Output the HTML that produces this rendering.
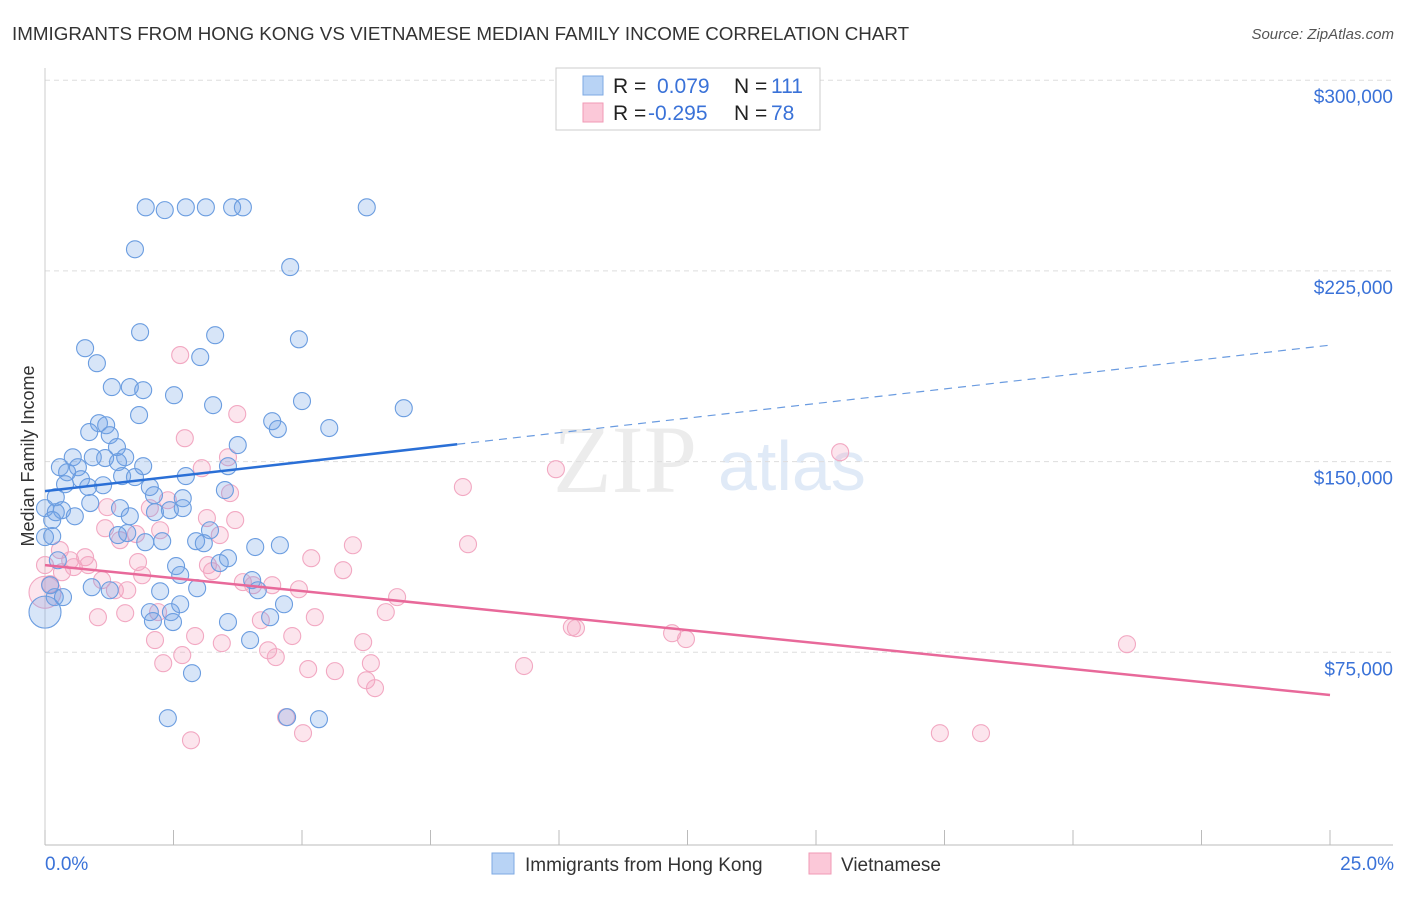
<!DOCTYPE html>
<html><head><meta charset="utf-8"><style>
body{margin:0;background:#fff;font-family:"Liberation Sans",sans-serif}
svg text{font-family:"Liberation Sans",sans-serif}
</style></head><body>
<svg id="c" width="1406" height="892">
<text x="12" y="40" font-size="18.8" fill="#333">IMMIGRANTS FROM HONG KONG VS VIETNAMESE MEDIAN FAMILY INCOME CORRELATION CHART</text>
<text x="1394" y="39" font-size="15" fill="#555" text-anchor="end" font-style="italic">Source: ZipAtlas.com</text>
<text x="553" y="492" font-size="96" fill="#ececec" style="font-family:'Liberation Serif',serif">ZIP</text>
<text x="718" y="490" font-size="70" fill="#e0eaf7">atlas</text>
<text x="34" y="456" font-size="18" fill="#333" text-anchor="middle" transform="rotate(-90 34 456)">Median Family Income</text>
<g id="grid"></g><g id="pts"></g><g id="trend"></g>
<rect x="556" y="68" width="264" height="62" fill="#fff" stroke="#ccc"/>
<rect x="583" y="76" width="20" height="19" fill="#b8d3f5" stroke="#7ea9e3"/>
<rect x="583" y="103" width="20" height="19" fill="#fbc8d8" stroke="#f09ab6"/>
<text font-size="21" fill="#222"><tspan x="613" y="93">R = </tspan><tspan x="657" fill="#3a72d8">0.079</tspan><tspan x="734">N = </tspan><tspan x="771" fill="#3a72d8">111</tspan></text>
<text font-size="21" fill="#222"><tspan x="613" y="120">R = </tspan><tspan x="648" fill="#3a72d8">-0.295</tspan><tspan x="734">N = </tspan><tspan x="771" fill="#3a72d8">78</tspan></text>
<rect x="492" y="853" width="22" height="21" fill="#b8d3f5" stroke="#7ea9e3"/>
<text x="525" y="871" font-size="19" fill="#333">Immigrants from Hong Kong</text>
<rect x="809" y="853" width="22" height="21" fill="#fbc8d8" stroke="#f09ab6"/>
<text x="841" y="871" font-size="19" fill="#333">Vietnamese</text>
</svg>
<script>
const yTicks=[75,150,225,300];
const yTickLabels=["$75,000","$150,000","$225,000","$300,000"];
const xTicks=[0,2.5,5,7.5,10,12.5,15,17.5,20,22.5,25];
const hkX=[1.96,2.33,2.74,3.13,3.64,3.85,6.26,1.75,4.77,1.85,3.31,4.94,0.78,3.02,1.01,1.30,1.65,1.91,2.51,6.98,5.00,3.27,1.83,4.42,4.53,5.53,1.05,1.19,0.86,1.26,1.40,3.75,0.54,0.93,1.17,1.56,1.42,0.29,0.64,1.91,3.56,0.43,0.70,1.50,1.75,0.39,0.84,1.13,2.74,2.04,0.21,2.12,2.68,3.50,0.88,0,0.33,0.58,0.21,1.46,1.65,2.14,2.43,2.68,0.14,3.21,0,1.60,1.42,1.95,2.28,2.94,3.09,4.09,3.56,4.57,2.55,3.40,2.63,4.03,1.26,2.24,2.96,4.14,0.19,2.63,4.65,2.04,4.38,2.45,2.10,2.49,3.56,3.99,2.86,2.39,4.71,5.33,0.91,0.35,0,0.10,0.14,0.25];
const hkY=[250,248.9,250,250,250,250,250,233.5,226.5,200.9,199.7,198.1,194.6,191.1,188.7,179.3,179.3,178.1,176.1,171,173.8,172.2,168.3,165.9,162.8,163.2,165.1,164.3,161.6,160.4,155.7,156.5,151.7,151.7,151.4,151.7,149.8,147.8,147.8,148.2,148.2,145.8,143.1,144.3,143.9,141.1,140,140.7,144.3,140,136,136.8,135.6,138.8,133.7,131.7,130.9,128.5,130.1,131.7,128.5,130.1,130.9,131.7,127,123,120.3,121.9,121.1,118.3,118.7,118.7,117.9,116.4,112,117.1,108.9,110.1,105.4,103.4,99.4,99,100.2,99.4,96.7,93.9,93.9,90.8,88.8,90.8,87.3,86.9,86.9,79.8,66.8,49.1,49.5,48.7,100.6,96.7,90.8,101.4,120.7,111.2];
const vnX=[2.63,2.72,3.74,3.56,3.05,3.60,9.94,15.47,8.13,8.23,0.29,0.49,0.33,0.78,0.56,0.10,0.84,1.17,1.46,1.77,2.04,2.24,3.15,3.40,1.81,1.11,1.36,1.89,1.60,1.03,1.56,2.20,2.14,2.30,2.67,2.92,3.44,3.17,3.25,3.85,4.05,4.42,4.94,4.20,4.34,4.49,4.81,5.25,5.18,5.80,5.99,5.12,5.64,6.19,6.34,6.25,6.42,6.63,6.85,9.32,10.25,10.33,12.20,12.47,21.05,17.41,18.21,2.84,5.02,4.69,0,0,3.70,1.21,2.39];
const vnY=[191.9,159.2,168.7,151.7,147.4,137.6,147,153.7,140,117.5,115.2,111.2,106.5,112.4,108.5,101.8,109.3,123.8,119.1,121.5,131.7,123,127.8,121.1,110.5,103.4,99.4,105.3,99.4,88.8,90.4,90.8,79.8,70.7,73.9,81.4,78.6,109.3,106.9,102.6,101.4,101.4,99.8,87.6,75.8,73.1,81.4,88.8,112,107.3,117.1,68.4,67.6,79,70.7,64,60.9,90.8,96.7,69.6,84.9,84.5,82.5,80.2,78.2,43.2,43.2,40.4,43.2,49.5,98.6,109.3,127,132.1,134.8];
const hkTrend=[138.4,195.8], hkSolidEnd=8.02;
const vnTrend=[109.3,58.2];
const X=v=>45+v/25*1285, Y=v=>843-v/75*190.7;
const NS="http://www.w3.org/2000/svg";
function mk(p,t,a){const e=document.createElementNS(NS,t);for(const k in a)e.setAttribute(k,a[k]);p.appendChild(e);return e;}
const g=document.getElementById('grid');
yTicks.forEach((t,i)=>{const l=mk(g,'line',{x1:45,x2:1393,y1:Y(t),y2:Y(t),stroke:'#ddd','stroke-dasharray':'5,4'});


const tx=mk(g,'text',{x:1393,y:Y(t)+23,'font-size':19,fill:'#3a72d8','text-anchor':'end'});tx.textContent=yTickLabels[i];

});
const ax=mk(g,'line',{x1:45,x2:1393,y1:845,y2:845,stroke:'#bbb'});


const ay=mk(g,'line',{x1:45,x2:45,y1:68,y2:845,stroke:'#ccc'});


xTicks.forEach(t=>{const l=mk(g,'line',{x1:X(t),x2:X(t),y1:830,y2:845,stroke:'#bbb'});

});
[[0,'0.0%','start',45],[25,'25.0%','end',1394]].forEach(a=>{const t=mk(g,'text',{x:a[3],y:870,'font-size':19,fill:'#3a72d8','text-anchor':a[2]});t.textContent=a[1];

});
const p=document.getElementById('pts');
function pts(xs,ys,fill,stroke,name){xs.forEach((x,i)=>{const big=(name==='hk'&&i===xs.length-4)||(name==='vn'&&i===70);
const c=mk(p,'circle',{cx:X(x),cy:Y(ys[i]),r:big?16:8.5,fill:fill,stroke:stroke,'stroke-width':1.1});

});}
pts(vnX,vnY,'rgba(244,160,190,0.28)','#f2a8c2','vn');
pts(hkX,hkY,'rgba(110,160,230,0.28)','#6b9de0','hk');
const tr=document.getElementById('trend');
const lerp=(a,x)=>a[0]+(a[1]-a[0])*x/25;
let l=mk(tr,'line',{x1:X(0),y1:Y(hkTrend[0]),x2:X(hkSolidEnd),y2:Y(lerp(hkTrend,hkSolidEnd)),stroke:'#2a6fd6','stroke-width':2.5});


l=mk(tr,'line',{x1:X(hkSolidEnd),y1:Y(lerp(hkTrend,hkSolidEnd)),x2:X(25),y2:Y(hkTrend[1]),stroke:'#6a9be0','stroke-width':1.2,'stroke-dasharray':'8,6'});


l=mk(tr,'line',{x1:X(0),y1:Y(vnTrend[0]),x2:X(25),y2:Y(vnTrend[1]),stroke:'#e8699a','stroke-width':2.5});


</script>
</body></html>
